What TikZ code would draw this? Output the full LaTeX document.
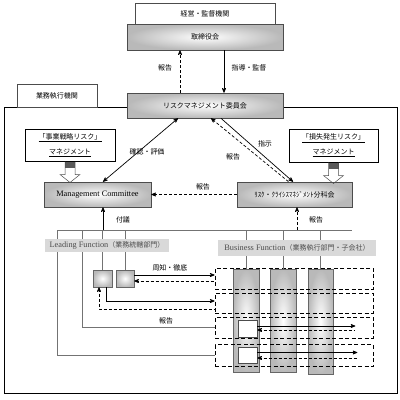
\documentclass[tikz,border=0pt]{standalone}
\usepackage{fontspec}
\setmainfont{Liberation Serif}
\newfontfamily\jpfont{Noto Sans CJK JP}
\usetikzlibrary{arrows}

\begin{document}
\begin{tikzpicture}[x=1pt,y=-1pt,
  every node/.style={font=\fontsize{7}{8}\selectfont\jpfont, inner sep=0pt},
  plainbox/.style={draw=black!70, fill=white, line width=.6pt},
  gradbox/.style={draw=black!70, line width=.6pt, inner color=white, outer color=gray!55},
  riskbox/.style={draw=black, fill=white, line width=1pt, align=center},
  funcbar/.style={fill=gray!30, text=black!70},
  colbox/.style={draw=black!60, line width=.5pt, inner color=white, outer color=gray!55},
  whitebox/.style={draw=black!70, fill=white, line width=.7pt},
  dbox/.style={draw, line width=.9pt, dash pattern=on 4pt off 2.5pt},
  link/.style={draw=black!55, line width=.5pt},
  arr/.style={line width=.7pt, ->, >=stealth'},
  darr/.style={arr, dash pattern=on 3pt off 2pt},
  latin/.style={font=\fontsize{8.3}{9}\selectfont\rmfamily}
]
\useasboundingbox (0,0) rectangle (400,400);

% frame of the executive side
\draw[line width=.9pt] (4,107) rectangle (397,393);

% top: board
\node[plainbox, minimum width=140pt, minimum height=22pt] (kansa) at (205,14) {経営・監督機関};
\node[gradbox, minimum width=156pt, minimum height=26pt] (board) at (205,37) {取締役会};
\node[gradbox, minimum width=156pt, minimum height=25pt] (rmc) at (205,105.5) {リスクマネジメント委員会};
\node[plainbox, minimum width=80pt, minimum height=23pt] (shikko) at (57,95.5) {業務執行機関};

\draw[darr] ([xshift=-25pt]rmc.north) -- ([xshift=-25pt]board.south);
\draw[arr] ([xshift=19pt]board.south) -- ([xshift=19pt]rmc.north);
\node (lbBoard1) at (165,68) {報告};
\node (lbBoard2) at (249,68) {指導・監督};

% risk management boxes
\node[riskbox, minimum width=90pt, minimum height=32pt] (jigyo) at (70,145)
  {\underline{「事業戦略リスク」}\\[6pt]\underline{マネジメント}};
\node[riskbox, minimum width=89pt, minimum height=33pt] (sonshitsu) at (333.5,145.5)
  {\underline{「損失発生リスク」}\\[6pt]\underline{マネジメント}};

\node[gradbox, minimum width=107pt, minimum height=25pt, latin] (mc) at (97.5,194.5) {Management Committee};
\node[gradbox, minimum width=115pt, minimum height=25pt] (rcm) at (294.5,194.5) {ﾘｽｸ・ｸﾗｲｼｽﾏﾈｼﾞﾒﾝﾄ分科会};

% hollow arrows
\foreach \b in {jigyo,sonshitsu} {
  \fill[black!65] ([xshift=-5pt]\b.south) rectangle ++(10,6);
  \draw[black!70, line width=.5pt] ([xshift=-5pt]\b.south) -- ++(0,13) -- ++(-5,0)
    -- ++(10,8) -- ++(10,-8) -- ++(-5,0) -- ++(0,-13);
}

\draw[arr, <->] ([xshift=5.5pt]mc.north) -- ([xshift=-27pt]rmc.south);
\draw[arr] ([xshift=16pt]rmc.south) -- ([xshift=-1.5pt]rcm.north);
\draw[darr] ([xshift=-6pt]rcm.north) -- ([xshift=6pt]rmc.south);
\draw[darr] (rcm.west) -- (mc.east);
\node (lbKakunin) at (147,152) {確認・評価};
\node (lbShiji) at (265,144) {指示};
\node (lbHokoku2) at (233,157) {報告};
\node (lbHokoku3) at (203,187) {報告};

% lower part
\node[colbox, minimum width=26pt, minimum height=103pt] (c1) at (246,320.5) {};
\node[colbox, minimum width=26pt, minimum height=103pt] (c2) at (283,320.5) {};
\node[colbox, minimum width=25pt, minimum height=105pt] (c3) at (320.5,321.5) {};
\node[whitebox, minimum width=19pt, minimum height=17pt] (wa) at (247.5,328.5) {};
\node[whitebox, minimum width=19pt, minimum height=16pt] (wb) at (247.5,355) {};

\node[dbox, minimum width=158pt, minimum height=21pt] (db1) at (294,278.5) {};
\node[dbox, minimum width=158pt, minimum height=20pt] (db2) at (294,303) {};
\node[dbox, minimum width=158pt, minimum height=21pt] (db3) at (294,327.5) {};
\node[dbox, minimum width=158pt, minimum height=22pt] (db4) at (294,355.5) {};

\node[colbox, minimum width=19pt, minimum height=17pt] (sb1) at (102.5,278.5) {};
\node[colbox, minimum width=18pt, minimum height=17pt] (sb2) at (125,278.5) {};

\coordinate (bl) at (57,230);
\coordinate (br) at (352,230);
\draw[link] (bl) -- (br);
\draw[link] (bl) |- (db4.west);
\draw[link] ([xshift=25pt]bl) |- (db3.west);
\foreach \s in {sb1,sb2,c1,c2,c3}
  \draw[link] (\s.north |- bl) -- (\s.north);

\node[funcbar, minimum width=124pt, minimum height=13pt] (lf) at (107,245.5)
  {{\fontsize{8.3}{9}\selectfont\rmfamily Leading Function}（業務統轄部門）};
\node[funcbar, minimum width=158pt, minimum height=16pt] (bf) at (297,248)
  {{\fontsize{8.3}{9}\selectfont\rmfamily Business Function}（業務執行部門・子会社）};

\draw[arr] ([xshift=5.5pt]mc.south |- bl) -- ([xshift=5.5pt]mc.south);
\draw[darr] ([xshift=2.5pt]rcm.south |- bl) -- ([xshift=2.5pt]rcm.south);
\node (lbFugi) at (123,220) {付議};
\node (lbHokoku4) at (316,220) {報告};

\draw[arr] ([yshift=3.5pt]sb2.east) -- ([yshift=3.5pt]sb2.east -| db1.west);
\draw[darr, <-] ([yshift=-2.5pt]sb2.east) -- ([yshift=-2.5pt]sb2.east -| db1.west);
\draw[arr] ([xshift=3.5pt]sb1.south) |- ([yshift=2pt]db2.west);
\draw[darr, <-] ([xshift=-3.5pt]sb1.south) |- ([yshift=-6pt]db2.west);
\node (lbShuchi) at (170,268) {周知・徹底};
\node (lbHokoku5) at (166,321) {報告};

\draw[arr] ([yshift=2.5pt]wa.east) -- ++(98,0);
\draw[darr, <-] ([yshift=-1.5pt]wa.east) -- ++(98,0);
\draw[arr] ([yshift=2.5pt]wb.east) -- ++(100,0);
\draw[darr, <-] ([yshift=-3pt]wb.east) -- ++(100,0);
\end{tikzpicture}
\end{document}
